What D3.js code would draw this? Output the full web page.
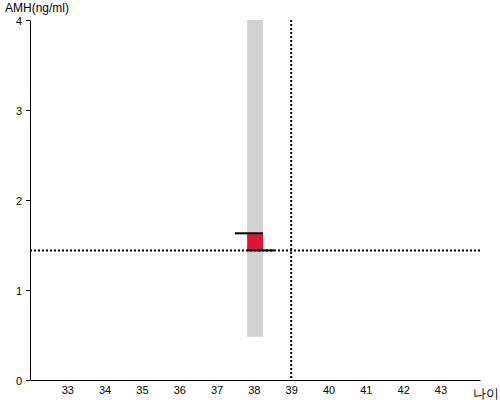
<!DOCTYPE html>
<html>
<head>
<meta charset="utf-8">
<script src="https://cdn.jsdelivr.net/npm/d3@7"></script>
<style>
  body { margin: 0; background: #fff; }
  text { font-family: "Liberation Sans", Arial, sans-serif; }
</style>
</head>
<body>
<div id="chart"></div>
<script>
// data
var xTicks = [33, 34, 35, 36, 37, 38, 39, 40, 41, 42, 43];
var yTicks = [0, 1, 2, 3, 4];
var refAge = [39];          // vertical dotted line
var refAmh = [1.44];        // horizontal dotted line
var bandAge = [37.82, 38.245];  // gray range band (x)
var bandAmh = [0.48, 4.0];      // gray range band (y)
var boxAmh = [1.44, 1.63];      // red box
var segStart = [37.49, 37.82];  // black segments
var segEnd = [38.245, 38.54];
var segAmh = [1.63, 1.44];

var width = 500, height = 400;

var svg = d3.select("#chart")
    .append("svg")
    .attr("width", width)
    .attr("height", height);

var x = d3.scaleLinear()
    .domain([32, 44.06])
    .range([30, 480]);

var y = d3.scaleLinear()
    .domain([0, 4])
    .range([380, 20]);

// gray band
svg.append("rect")
    .attr("x", x(bandAge[0]))
    .attr("y", y(bandAmh[1]))
    .attr("width", x(bandAge[1]) - x(bandAge[0]))
    .attr("height", y(bandAmh[0]) - y(bandAmh[1]))
    .style("fill", "#d3d3d3");

// red box
svg.append("rect")
    .attr("x", x(bandAge[0]))
    .attr("y", y(boxAmh[1]))
    .attr("width", x(bandAge[1]) - x(bandAge[0]))
    .attr("height", y(boxAmh[0]) - y(boxAmh[1]))
    .style("fill", "#dc143c");

// reference lines
svg.selectAll(".vref")
    .data(refAge)
    .enter()
    .append("line")
    .attr("x1", d => x(d)).attr("x2", d => x(d))
    .attr("y1", y(4)).attr("y2", y(0))
    .style("stroke", "#000")
    .style("stroke-width", 2)
    .style("stroke-dasharray", "2,2");

svg.selectAll(".href")
    .data(refAmh)
    .enter()
    .append("line")
    .attr("x1", x.range()[0]).attr("x2", x.range()[1])
    .attr("y1", d => y(d)).attr("y2", d => y(d))
    .style("stroke", "#000")
    .style("stroke-width", 2)
    .style("stroke-dasharray", "2,2");

// black segments
svg.selectAll(".seg")
    .data(segAmh)
    .enter()
    .append("line")
    .attr("x1", (d, i) => x(segStart[i]))
    .attr("x2", (d, i) => x(segEnd[i]))
    .attr("y1", d => y(d)).attr("y2", d => y(d))
    .style("stroke", "#000")
    .style("stroke-width", 2);

// x axis
var gx = svg.append("g")
    .attr("transform", "translate(0," + y(0) + ")")
    .call(d3.axisBottom(x).tickValues(xTicks).tickSize(0).tickPadding(6).tickSizeOuter(0));
gx.select(".domain").attr("stroke", "#000");
gx.selectAll("text").style("font-size", "11px").style("fill", "#000")
    .style("font-family", "'Liberation Sans', Arial, sans-serif");

// y axis
var gy = svg.append("g")
    .attr("transform", "translate(" + x.range()[0] + ",0)")
    .call(d3.axisLeft(y).tickValues(yTicks).tickFormat(d3.format("d"))
        .tickSize(4).tickPadding(4).tickSizeOuter(0));
gy.selectAll("text").style("font-size", "11px").style("fill", "#000")
    .attr("dy", "0.4em")
    .style("font-family", "'Liberation Sans', Arial, sans-serif");

// titles
svg.append("text")
    .attr("x", 5)
    .attr("y", 12)
    .style("font-size", "12px")
    .text("AMH(ng/ml)");

svg.append("text")
    .attr("x", 473)
    .attr("y", 398)
    .style("font-size", "13px")
    .text("나이");
</script>
</body>
</html>
